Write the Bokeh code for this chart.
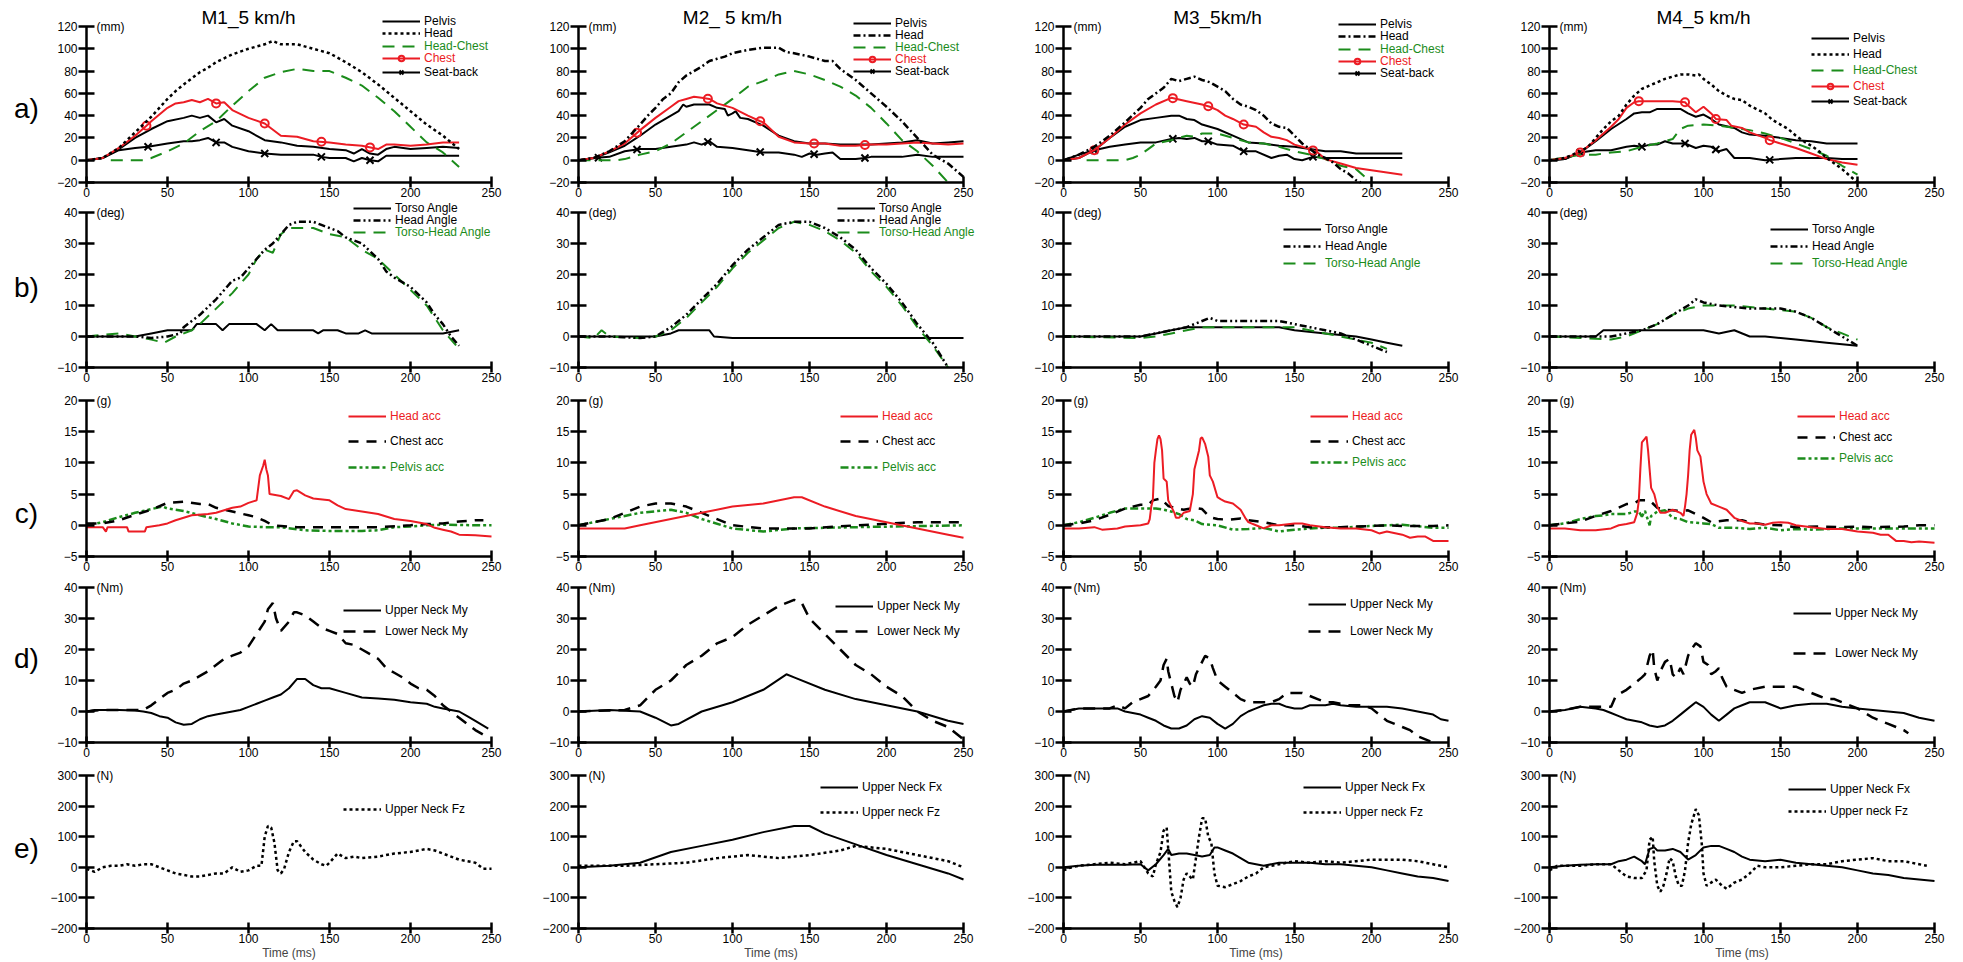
import numpy as np
from bokeh.plotting import figure
from bokeh.models import Label, Legend, LegendItem, Range1d, FixedTicker
from bokeh.layouts import column, row
from bokeh.embed import file_html
from bokeh.resources import INLINE

FONT = "Liberation Sans"
RED = "#ec1c24"
GREEN = "#1b8c1b"
BLACK = "#000000"

TITLES = ["M1_5 km/h", "M2_ 5 km/h", "M3_5km/h", "M4_5 km/h"]
ROW_LABELS = ["a)", "b)", "c)", "d)", "e)"]
UNITS = ["(mm)", "(deg)", "(g)", "(Nm)", "(N)"]
Y_LIMITS = [(-20, 120), (-10, 40), (-5, 20), (-10, 40), (-200, 300)]
Y_TICKS = [[-20, 0, 20, 40, 60, 80, 100, 120], [-10, 0, 10, 20, 30, 40],
           [-5, 0, 5, 10, 15, 20], [-10, 0, 10, 20, 30, 40], [-200, -100, 0, 100, 200, 300]]
X_TICKS = [0, 50, 100, 150, 200, 250]

# ---------------- a) displacement (mm) : (time ms, value) ----------------
M1_pelvis = [(0,0),(10,2),(20,10),(30,20),(40,28),(50,35),(60,38),(65,40),(70,38),(75,40),(80,34),(85,37),(90,31),(100,26),(110,18),(120,16),(130,13),(140,12),(150,10),(160,9),(165,6),(170,10),(175,6),(180,5),(185,10),(190,12),(200,10),(210,11),(220,12),(230,11)]
M1_head = [(0,0),(10,2),(20,11),(30,25),(40,39),(50,55),(55,62),(60,68),(70,79),(75,83),(80,88),(90,95),(100,100),(110,104),(115,107),(120,104),(130,104),(140,100),(150,96),(160,88),(170,79),(180,68),(190,56),(200,44),(210,32),(220,22),(230,10)]
M1_headchest = [(15,0),(35,0),(40,2),(50,8),(60,15),(70,26),(80,35),(90,49),(100,62),(110,74),(120,79),(130,82),(140,80),(150,80),(160,74),(170,67),(180,56),(190,44),(200,30),(210,16),(220,7),(230,-6)]
M1_chest = [(0,0),(10,2),(20,11),(30,22),(37,31),(40,35),(50,47),(55,51),(60,52),(65,54),(70,52),(75,55),(80,51),(85,52),(90,45),(100,38),(110,33),(120,22),(130,21),(140,17),(150,16),(160,14),(170,13),(180,10),(185,14),(190,14),(200,13),(210,14),(220,16),(230,16)]
M1_chest_marks = [37, 80, 110, 145, 175]
M1_seat = [(0,0),(10,2),(20,9),(30,11),(38,12),(50,15),(60,17),(65,17),(70,18),(75,20),(80,16),(85,16),(90,12),(100,8),(110,6),(120,5),(140,5),(145,3),(150,2),(160,2),(165,-1),(170,2),(175,0),(180,-1),(185,4),(190,4),(230,4)]
M1_seat_marks = [38, 80, 110, 145, 175]

M2_pelvis = [(0,0),(10,2),(20,7),(30,13),(40,22),(50,32),(60,40),(65,44),(68,50),(70,48),(75,50),(85,50),(90,47),(95,46),(97,40),(100,42),(102,44),(105,38),(110,37),(120,31),(130,22),(140,17),(150,15),(160,15),(170,14),(180,14),(190,14),(200,15),(210,16),(220,18),(230,15),(240,16),(250,17)]
M2_head = [(0,0),(10,2),(20,8),(30,17),(40,32),(45,40),(50,47),(55,55),(60,60),(65,70),(70,76),(75,80),(80,84),(85,89),(90,91),(95,93),(100,96),(110,99),(120,101),(130,101),(135,97),(140,96),(150,93),(155,91),(160,89),(165,89),(170,82),(180,72),(190,60),(200,48),(210,35),(220,20),(230,5),(240,-3),(250,-15)]
M2_headchest = [(0,0),(25,0),(30,1),(40,5),(50,8),(60,15),(70,25),(80,35),(90,45),(100,55),(110,66),(120,71),(130,77),(140,80),(150,77),(160,72),(170,66),(180,58),(190,47),(200,33),(210,18),(220,8),(230,-5),(240,-20)]
M2_chest = [(0,0),(10,2),(20,8),(30,15),(40,27),(50,38),(60,48),(65,53),(70,55),(75,57),(80,56),(85,55),(90,51),(100,47),(110,40),(118,35),(120,34),(130,21),(140,16),(150,15),(160,15),(170,13),(180,13),(190,14),(200,14),(210,15),(220,16),(230,15),(240,14),(250,15)]
M2_chest_marks = [38, 84, 118, 153, 186]
M2_seat = [(0,0),(10,2),(20,3),(30,8),(40,10),(50,10),(60,12),(70,14),(75,16),(80,14),(85,17),(90,12),(100,11),(110,9),(120,7),(130,7),(140,5),(145,3),(150,6),(155,5),(160,6),(165,7),(170,1),(180,1),(186,2),(190,3),(210,3),(220,5),(230,3),(250,3)]
M2_seat_marks = [13, 38, 84, 118, 153, 186]

M3_pelvis = [(0,0),(10,2),(20,9),(30,20),(40,30),(50,36),(60,38),(70,40),(75,40),(80,37),(85,36),(90,32),(100,28),(110,22),(120,16),(130,15),(140,13),(150,12),(160,10),(170,8),(180,8),(190,6),(200,6),(220,6)]
M3_head = [(0,0),(10,5),(20,12),(30,22),(40,34),(50,47),(55,55),(60,60),(65,65),(70,73),(75,71),(80,73),(85,75),(90,72),(95,70),(100,66),(105,62),(110,55),(115,50),(120,48),(125,45),(130,40),(135,33),(140,30),(145,29),(150,22),(155,15),(160,10),(165,5),(170,2),(175,-2),(180,-8),(185,-12),(190,-18),(193,-20)]
M3_headchest = [(15,0),(40,0),(45,2),(50,5),(55,10),(60,15),(70,18),(80,22),(85,21),(90,24),(100,24),(110,20),(120,16),(130,15),(140,12),(150,8),(160,5),(170,1),(180,-5),(190,-8),(200,-20)]
M3_chest = [(0,0),(10,2),(20,9),(30,20),(40,32),(50,42),(60,50),(70,56),(80,53),(90,50),(95,48),(100,45),(105,40),(110,37),(117,32),(125,30),(130,25),(135,21),(140,20),(145,18),(150,14),(160,10),(165,7),(170,1),(180,-3),(190,-7),(200,-9),(210,-11),(220,-13)]
M3_chest_marks = [20, 71, 94, 117, 162]
M3_seat = [(0,0),(10,5),(20,9),(30,12),(40,14),(50,16),(60,16),(70,19),(75,20),(80,19),(85,20),(90,17),(94,17),(100,14),(110,13),(117,8),(125,8),(135,2),(140,4),(145,5),(150,1),(155,0),(162,3),(170,2),(220,2)]
M3_seat_marks = [20, 71, 94, 117, 162]

M4_pelvis = [(0,0),(10,1),(20,7),(30,17),(40,28),(50,37),(55,42),(60,43),(65,43),(70,46),(80,46),(85,46),(90,42),(95,39),(100,41),(105,37),(110,32),(120,29),(125,25),(130,23),(140,22),(150,20),(160,18),(170,17),(180,15),(190,15),(200,15)]
M4_head = [(0,0),(10,2),(20,8),(25,12),(30,20),(35,28),(40,35),(45,40),(50,50),(55,58),(60,64),(65,67),(70,70),(75,73),(80,75),(85,77),(90,77),(95,76),(97,77),(100,73),(105,68),(110,62),(115,58),(120,55),(125,54),(130,49),(140,42),(145,36),(150,32),(155,28),(160,22),(165,17),(170,13),(175,8),(180,2),(185,-3),(190,-8),(195,-14),(200,-20)]
M4_headchest = [(0,0),(20,5),(30,5),(40,7),(50,8),(60,12),(70,15),(75,17),(80,19),(85,28),(90,31),(100,32),(110,31),(120,29),(130,27),(140,24),(150,20),(160,15),(170,10),(180,4),(190,-5),(200,-13)]
M4_chest = [(0,0),(10,2),(20,7),(30,18),(40,30),(45,37),(50,47),(55,52),(58,53),(70,53),(80,53),(88,52),(90,49),(95,43),(100,48),(105,42),(108,37),(115,36),(118,31),(125,29),(130,25),(140,20),(143,18),(150,15),(160,11),(170,6),(180,1),(190,-2),(200,-4)]
M4_chest_marks = [20, 58, 88, 108, 143]
M4_seat = [(0,0),(10,1),(20,7),(30,9),(40,9),(50,12),(55,13),(60,12),(65,14),(70,14),(75,17),(80,15),(88,15),(95,11),(100,13),(105,12),(110,8),(115,10),(120,2),(130,2),(140,0),(150,1),(160,2),(180,2),(190,1),(200,1)]
M4_seat_marks = [20, 60, 88, 108, 143]

# ---------------- b) angles (deg) ----------------
M1_torso = [(0,0),(30,0),(40,1),(50,2),(65,2),(68,4),(80,4),(84,2),(88,4),(105,4),(110,2),(114,4),(118,2),(140,2),(143,1),(146,2),(155,2),(160,1),(168,1),(172,2),(176,1),(220,1),(230,2)]
M1_headang = [(0,0),(30,0),(40,-0.5),(50,0),(58,1),(60,3),(65,5),(70,7),(80,12),(85,15),(90,18),(95,19),(100,22),(105,25),(110,28),(115,30),(120,33),(125,36),(130,37),(140,37),(145,36),(150,35),(155,34),(160,32),(170,30),(180,25),(185,21),(190,19),(200,16),(210,11),(215,7),(220,4),(225,0),(230,-3)]
M1_torsohead = [(0,0),(20,1),(30,0),(40,-1),(48,-2),(55,0),(65,2),(70,4),(80,9),(90,14),(100,20),(105,25),(110,28),(115,27),(120,33),(125,35),(130,35),(140,35),(150,33),(160,32),(170,28),(180,25),(190,20),(200,15),(210,10),(220,2),(225,-1),(230,-4)]
M2_torso = [(0,0),(30,0),(50,0),(60,1),(65,2),(85,2),(88,0),(100,-0.5),(250,-0.5)]
M2_headang = [(0,0),(20,0),(40,-0.5),(50,0),(60,3),(70,7),(80,12),(90,17),(100,23),(110,28),(120,32),(130,36),(140,37),(150,37),(160,35),(170,32),(180,28),(190,22),(200,17),(210,11),(220,4),(230,-2),(240,-10)]
M2_torsohead = [(0,0),(10,-0.5),(15,2),(20,0),(40,-0.5),(50,0),(60,2),(70,6),(80,11),(90,16),(100,22),(110,27),(120,31),(130,35),(140,37),(150,36),(160,34),(170,31),(180,27),(190,21),(200,16),(210,10),(220,3),(230,-3),(240,-10)]
M3_torso = [(0,0),(40,0),(50,0),(60,1),(70,2),(80,3),(100,3),(140,3),(150,2),(170,1),(190,0),(200,-1),(210,-2),(220,-3)]
M3_headang = [(0,0),(50,0),(60,1),(70,2),(80,3),(90,5),(95,6),(100,5),(120,5),(140,5),(150,4),(160,3),(170,2),(180,1),(190,-1),(200,-3),(210,-5)]
M3_torsohead = [(0,0),(50,-0.5),(60,0),(70,1),(80,2),(90,3),(100,3),(120,3),(140,3),(150,3),(170,1),(190,-1),(200,-2),(210,-4)]
M4_torso = [(0,0),(30,0),(35,2),(80,2),(100,2),(110,1),(120,2),(130,0),(140,0),(160,-1),(180,-2),(200,-3)]
M4_headang = [(0,0),(40,0),(50,1),(60,2),(70,4),(80,7),(90,10),(95,12),(100,11),(110,10),(130,9),(150,9),(160,8),(170,6),(180,3),(190,0),(200,-3)]
M4_torsohead = [(0,0),(40,-1),(50,0),(60,2),(70,4),(80,7),(90,9),(100,10),(120,10),(140,9),(160,8),(170,6),(180,3),(190,1),(200,-1)]

# ---------------- c) accelerations (g) ----------------
M1_headacc = [(0,-0.3),(10,-0.3),(12,-1),(13,-0.3),(25,-0.3),(26,-1),(36,-1),(37,-0.3),(45,0),(50,0.3),(55,0.8),(60,1.2),(65,1.6),(75,1.8),(80,2),(85,2.4),(90,2.8),(95,3),(100,3.6),(105,4),(107,8),(109,9.5),(110,10.5),(111,9),(112,8),(113,5),(120,4.7),(125,4.2),(128,5.5),(130,5.6),(135,4.8),(140,4.3),(150,4),(155,3.2),(160,2.6),(170,2.2),(180,1.8),(190,1),(200,0.7),(210,0.2),(215,-0.4),(220,-0.7),(225,-1),(230,-1.5),(240,-1.6),(250,-1.8)]
M1_chestacc = [(0,0.3),(10,0.3),(20,0.8),(30,1.7),(40,2.5),(50,3.6),(60,3.8),(70,3.4),(75,3.4),(80,2.8),(90,2.2),(100,1.6),(105,1.3),(110,0.7),(115,0),(120,-0.1),(130,-0.3),(150,-0.3),(180,-0.3),(200,0),(210,0.2),(220,0.3),(230,0.6),(240,0.8),(245,0.8)]
M1_pelvisacc = [(0,0),(10,0.5),(20,1.3),(30,2),(40,2.6),(47,3.0),(50,2.7),(60,2.3),(70,1.6),(80,1),(90,0.3),(100,-0.2),(110,-0.3),(120,-0.3),(135,-0.8),(150,-0.9),(170,-0.9),(180,-0.8),(190,-0.3),(200,-0.2),(210,0),(220,0.1),(240,0),(250,0)]
M2_headacc = [(0,-0.5),(30,-0.5),(40,0),(60,1),(80,2),(100,3),(120,3.5),(140,4.5),(145,4.5),(160,3),(180,1.5),(200,0.5),(220,-0.5),(240,-1.5),(250,-2)]
M2_chestacc = [(0,0),(20,1),(40,3),(50,3.5),(60,3.5),(70,3),(80,2),(90,1),(100,0),(120,-0.5),(150,-0.5),(180,0),(220,0.5),(250,0.5)]
M2_pelvisacc = [(0,0),(20,1),(40,2),(60,2.5),(70,2),(80,1),(100,-0.5),(120,-1),(140,-0.5),(180,-0.3),(250,0)]
M3_headacc = [(0,-0.5),(10,-0.5),(20,-0.3),(25,-0.7),(35,-0.5),(40,-0.2),(50,0),(55,0.3),(56,1),(57,3),(58,4),(59,10),(60,12),(61,13.8),(62,14.4),(63,13.8),(64,12),(65,7.5),(67,7),(68,4),(70,3),(72,2),(73,1.2),(75,1.2),(78,2),(82,2.3),(84,5),(85,9),(86,10),(88,12),(89,13.9),(90,14.1),(92,13),(94,11),(95,8),(97,7),(100,4.5),(102,4.2),(105,3.8),(110,3.5),(115,2.5),(118,1.2),(120,0.5),(125,0),(130,-0.5),(135,0),(140,0),(150,0.3),(155,0.3),(160,0),(170,-0.3),(180,-0.5),(190,-0.5),(200,-0.8),(205,-1.3),(210,-1),(220,-1.5),(225,-2),(230,-1.8),(235,-1.8),(240,-2.5),(250,-2.5)]
M3_chestacc = [(0,0),(10,0.3),(20,0.8),(30,1.7),(40,2.7),(50,3.3),(55,3.3),(58,4),(63,4.3),(68,3.1),(72,2.8),(78,2.5),(85,2.8),(90,2.6),(95,1.3),(100,1),(107,0.9),(115,1.1),(120,0.8),(130,0.5),(140,0),(150,0),(160,-0.3),(180,-0.3),(200,-0.1),(210,0),(220,-0.1),(240,-0.1),(250,0)]
M3_pelvisacc = [(0,0),(10,0.5),(20,1.2),(30,2),(40,2.7),(50,2.7),(60,2.7),(65,2.5),(70,2.2),(75,1.8),(80,1),(85,0.8),(90,0.2),(100,0),(110,-0.7),(120,-0.6),(130,-0.4),(140,-1),(150,-0.7),(160,-0.5),(170,-0.4),(180,-0.4),(200,-0.1),(220,0.1),(240,-0.4),(250,-0.4)]
M4_headacc = [(0,-0.5),(10,-0.5),(20,-0.8),(30,-0.8),(40,-0.5),(45,0),(50,0.2),(55,0.5),(57,2),(58,4),(59,9),(60,13.3),(62,13.9),(63,14.2),(64,12),(65,9),(66,6),(68,5),(70,3),(72,2),(75,2),(80,2.5),(85,2),(87,1.5),(88,3),(89,5),(90,8),(91,12),(92,14.5),(94,15.3),(95,14),(96,12),(98,11),(100,7),(102,5),(105,3.5),(110,3),(115,2.5),(120,1.2),(125,0.7),(130,0.3),(135,0.3),(140,0.1),(145,0.4),(150,0.5),(155,0.4),(160,0),(170,-0.3),(180,-0.6),(190,-0.6),(200,-1),(210,-1.2),(215,-1.5),(220,-1.5),(225,-2.5),(230,-2.5),(235,-2.7),(240,-2.6),(250,-2.8)]
M4_chestacc = [(0,0),(10,0.3),(20,0.6),(30,1.5),(40,2.3),(50,3.4),(55,3.5),(58,4),(65,4),(70,2.8),(75,2.5),(80,2.4),(85,2.3),(90,2.4),(100,1.2),(105,0.5),(115,0.8),(125,0.8),(130,0.5),(140,0.1),(150,0),(160,-0.3),(175,-0.2),(190,-0.3),(200,-0.2),(210,-0.3),(230,-0.2),(240,0),(250,0)]
M4_pelvisacc = [(0,0),(10,0.3),(20,1),(30,1.5),(35,1.6),(40,1.8),(50,1.8),(55,2.2),(58,2.2),(60,1.4),(62,2.3),(65,0),(66,1.5),(70,2.2),(75,2.4),(80,1.2),(85,1),(90,0.5),(100,0.3),(105,0.2),(110,-0.4),(120,-0.4),(130,-0.6),(140,-0.4),(150,-0.8),(160,-0.6),(170,-0.7),(180,-0.6),(190,-0.5),(200,-0.5),(220,-0.5),(250,-0.5)]

# ---------------- d) neck moments (Nm) ----------------
M1_upmy = [(0,0),(5,0.5),(10,0.5),(20,0.5),(30,0.3),(35,0),(40,-0.5),(45,-1.5),(50,-2),(55,-3.5),(60,-4.3),(65,-4),(70,-2.5),(75,-1.5),(80,-1),(90,0),(95,0.5),(100,1.5),(105,2.5),(110,3.5),(115,4.5),(120,5.5),(125,7.5),(130,10.5),(135,10.5),(140,8.5),(145,7.5),(150,7.5),(160,6),(170,4.5),(180,4.2),(190,3.8),(200,3),(210,2.5),(215,1.5),(220,1),(225,0.5),(230,0),(235,-1.5),(240,-3),(248,-5.5)]
M1_lowmy = [(0,0),(10,0.5),(20,0.5),(30,0.5),(35,0.5),(40,2),(45,4),(50,6),(55,7),(60,9),(65,10),(70,11.5),(75,13),(80,15),(85,17),(90,18),(95,19),(100,21),(105,25),(110,29),(112,33),(115,35),(117,30),(120,26),(125,29),(128,32),(130,32),(135,31),(140,29),(145,27),(150,26),(155,25),(160,22),(165,21.5),(170,20),(175,18.5),(180,17),(185,14),(190,12.5),(195,11),(200,9),(205,7.5),(210,7),(215,5),(220,2),(225,0),(230,-2),(235,-4),(240,-6),(245,-7.5),(248,-9)]
M2_upmy = [(0,0),(20,0.5),(40,0),(50,-2),(60,-4.5),(65,-4),(80,0),(100,3),(120,7),(135,12),(140,11),(160,7),(180,4),(200,2),(220,0),(240,-3),(250,-4)]
M2_lowmy = [(0,0),(30,0.5),(40,2),(50,7),(60,10),(70,15),(80,18),(90,22),(100,24),(110,28),(120,31),(130,34),(140,36),(145,35),(150,30),(160,25),(170,20),(180,15),(190,12),(200,8),(210,5),(220,0),(230,-3),(240,-5),(250,-9)]
M3_upmy = [(0,0),(5,0.5),(10,1),(20,1),(30,1),(35,1),(40,0),(45,-0.5),(50,-1),(55,-2),(60,-3),(65,-4.5),(70,-5.5),(75,-5.5),(80,-4.5),(85,-2.5),(90,-1.5),(95,-2),(100,-4),(105,-5.5),(110,-4),(115,-1.5),(120,0),(125,1),(130,2),(135,2.5),(140,2.5),(145,1.5),(150,1),(155,1),(160,2),(170,2),(175,2.5),(180,2),(190,1.5),(200,1.5),(210,1.5),(220,1),(230,0),(240,-1),(245,-2.5),(250,-3)]
M3_lowmy = [(0,0),(10,1),(20,1),(30,1),(35,2),(40,1),(45,3),(50,4),(55,5),(60,8),(63,10),(65,15),(67,17),(68,13),(70,9),(72,5),(74,3),(76,7),(78,9),(80,11),(82,9),(84,8),(86,12),(88,14),(90,16),(92,18),(95,17),(97,14),(100,10),(105,8),(110,6),(115,4),(120,3),(125,3),(130,3),(135,3),(140,4),(145,6),(150,6),(155,6),(160,5),(165,4),(170,3),(175,3),(180,2.5),(185,2),(190,2),(195,2),(200,1),(205,-1),(210,-3),(215,-4),(220,-5),(225,-6),(230,-8),(235,-9),(240,-10)]
M4_upmy = [(0,0),(10,0.5),(20,1.5),(30,1),(35,0.5),(40,-0.5),(45,-1.5),(50,-2.5),(55,-3),(60,-3.5),(65,-4.5),(70,-5),(75,-4.5),(80,-3),(85,-1),(90,1),(95,3),(100,1.5),(105,-1),(110,-3),(115,-1),(120,1),(125,2),(130,3),(140,3),(150,1),(160,2),(170,2.5),(180,2.5),(190,1.5),(200,1),(210,0.5),(220,0),(230,-0.5),(240,-2),(250,-3)]
M4_lowmy = [(0,0),(10,0.5),(20,1.5),(30,1.5),(40,1.5),(43,5),(50,7),(55,9),(60,11),(62,12),(65,18),(67,20),(68,14),(70,10),(72,13),(75,16),(78,17),(80,12),(82,11),(85,14),(87,12),(90,18),(92,20),(95,22),(98,21),(100,16),(103,15),(105,12),(108,13),(110,14),(112,11),(115,8),(120,7),(125,6),(130,7),(140,8),(150,8),(160,8),(165,7),(170,6),(175,5),(180,4),(185,4),(190,3),(200,1),(210,-2),(215,-3),(220,-4),(225,-5),(230,-6),(233,-7)]

# ---------------- e) neck forces (N) ----------------
M1_fz = [(0,-5),(5,-15),(10,0),(15,5),(20,5),(25,10),(30,5),(35,10),(40,10),(45,0),(50,-10),(55,-20),(60,-25),(65,-30),(70,-30),(75,-25),(80,-20),(85,-20),(90,0),(95,-15),(100,-10),(105,5),(108,5),(110,100),(112,135),(114,130),(116,80),(118,-10),(120,-20),(122,-5),(125,50),(128,85),(130,85),(135,50),(140,25),(145,10),(148,5),(150,15),(155,45),(160,30),(165,35),(170,30),(180,35),(190,45),(200,50),(210,60),(215,55),(220,45),(230,25),(240,15),(245,-5),(250,-5)]
M2_fx = [(0,0),(20,5),(40,15),(60,50),(80,70),(100,90),(120,115),(140,135),(150,135),(160,110),(180,75),(200,40),(220,10),(240,-20),(250,-40)]
M2_fz = [(0,5),(30,5),(50,10),(70,15),(90,30),(110,40),(130,30),(150,40),(170,55),(180,70),(200,60),(220,40),(240,20),(250,0)]
M3_fx = [(0,0),(10,5),(20,8),(30,8),(40,8),(50,10),(55,-10),(60,10),(65,40),(68,60),(70,40),(75,45),(80,45),(85,40),(90,35),(95,40),(98,65),(100,65),(105,55),(110,45),(115,30),(120,15),(125,10),(130,5),(140,15),(150,15),(160,15),(170,10),(180,10),(190,5),(200,0),(210,-10),(220,-20),(230,-30),(240,-35),(250,-45)]
M3_fz = [(0,-10),(5,0),(10,5),(20,10),(30,15),(40,10),(50,20),(55,-20),(58,-30),(60,10),(63,50),(65,120),(67,130),(68,60),(70,-80),(72,-110),(74,-130),(76,-100),(78,-40),(80,-20),(84,-40),(86,30),(88,100),(90,160),(92,160),(94,100),(96,80),(98,-20),(100,-60),(105,-65),(110,-55),(115,-45),(120,-30),(125,-20),(130,0),(140,10),(150,20),(160,15),(170,20),(180,15),(190,20),(200,25),(210,25),(220,25),(230,20),(240,10),(250,0)]
M4_fx = [(0,0),(10,5),(20,8),(30,10),(40,10),(45,20),(50,25),(55,35),(60,20),(62,10),(65,60),(68,65),(70,55),(75,55),(80,60),(85,50),(90,25),(95,40),(100,65),(105,70),(110,70),(115,60),(120,50),(125,35),(130,25),(140,20),(150,25),(160,15),(170,10),(180,5),(190,0),(200,-10),(210,-20),(220,-25),(230,-35),(240,-40),(250,-45)]
M4_fz = [(0,-10),(5,5),(10,5),(20,5),(30,10),(40,10),(45,-10),(50,-30),(55,-35),(60,-35),(63,-10),(65,90),(67,100),(68,20),(70,-60),(72,-80),(74,-60),(76,-20),(78,30),(80,20),(82,-30),(84,-60),(86,-60),(88,-10),(90,80),(92,140),(95,190),(97,170),(99,70),(100,-20),(102,-60),(105,-50),(108,-40),(112,-60),(115,-70),(120,-50),(125,-40),(130,-20),(135,5),(140,0),(150,0),(160,5),(170,10),(180,10),(190,20),(200,25),(210,30),(220,20),(230,20),(240,10),(245,5)]

# ---------------- layout (pixels) ----------------
FRAME_W = [405, 385, 385, 385]
BL = [86, 67, 70, 71]
BR = [20, 30, 30, 29]
FRAME_H = [156, 155, 156, 155, 153]
BT = [26, 12, 13, 11, 13]
BB = [18, 20, 20, 20, 34]
FL = [86, 578, 1063, 1549]          # page x of each column's axis origin
FB = [182, 367, 556, 742, 928]      # page y of each row's x-axis line
FT = [26, 212, 400, 587, 775]       # page y of each row's top tick
ROW_LABEL_Y = [108, 287, 513, 658, 848]

HEAD_DASH = ["3 3", "7 3 2 3", "7 3 2 3", "3 3"]

# legend positions (page px): sample start x, list of row-centre y
LEG_POS = {
    (0, 0): (382, [21, 33, 46, 58, 72]),
    (0, 1): (853, [23, 35, 47, 59, 71]),
    (0, 2): (1338, [24, 36, 49, 61, 73]),
    (0, 3): (1811, [38, 54, 70, 86, 101]),
    (1, 0): (353, [208, 220, 232]),
    (1, 1): (837, [208, 220, 232]),
    (1, 2): (1283, [229, 246, 263]),
    (1, 3): (1770, [229, 246, 263]),
    (2, 0): (348, [416, 441, 467]),
    (2, 1): (840, [416, 441, 467]),
    (2, 2): (1310, [416, 441, 462]),
    (2, 3): (1797, [416, 437, 458]),
    (3, 0): (343, [610, 631]),
    (3, 1): (835, [606, 631]),
    (3, 2): (1308, [604, 631]),
    (3, 3): (1793, [613, 653]),
    (4, 0): (343, [809]),
    (4, 1): (820, [787, 812]),
    (4, 2): (1303, [787, 812]),
    (4, 3): (1788, [789, 811]),
}


def tv(pts):
    return [a for a, b in pts], [b for a, b in pts]


def make_fig(ri, ci):
    ymin, ymax = Y_LIMITS[ri]
    span = ymax - ymin
    W = BL[ci] + FRAME_W[ci] + BR[ci]
    H = BT[ri] + FRAME_H[ri] + BB[ri]
    x0 = -BL[ci] / FRAME_W[ci] * 250
    x1 = 250 + BR[ci] / FRAME_W[ci] * 250
    y0 = ymin - BB[ri] / FRAME_H[ri] * span
    y1 = ymax + BT[ri] / FRAME_H[ri] * span
    p = figure(width=W, height=H, x_range=Range1d(x0, x1), y_range=Range1d(y0, y1),
               output_backend="svg", toolbar_location=None,
               min_border_left=0, min_border_right=0, min_border_top=0, min_border_bottom=0,
               outline_line_color=None, background_fill_color="white", border_fill_color="white")
    p.grid.visible = False
    p.xaxis.ticker = FixedTicker(ticks=X_TICKS)
    p.yaxis.ticker = FixedTicker(ticks=Y_TICKS[ri])
    p.xaxis.fixed_location = ymin
    p.yaxis.fixed_location = 0
    p.xaxis.bounds = (0, 250)
    p.yaxis.bounds = (ymin, ymax)
    for ax in p.axis:
        ax.axis_line_width = 2.5
        ax.major_tick_line_width = 2.5
        ax.minor_tick_line_color = None
        ax.major_label_text_font = FONT
        ax.major_label_text_font_size = "12px"
        ax.major_label_text_color = BLACK
    p.yaxis.major_tick_in = 8
    p.yaxis.major_tick_out = 8
    p.yaxis.major_label_standoff = 1
    p.xaxis.major_tick_in = 6
    p.xaxis.major_tick_out = 5
    p.xaxis.major_label_standoff = 0
    if ri == 4:
        p.xaxis.axis_label = "Time (ms)"
        p.xaxis.axis_label_text_font = FONT
        p.xaxis.axis_label_text_font_size = "12px"
        p.xaxis.axis_label_text_font_style = "normal"
        p.xaxis.axis_label_standoff = 0
    # unit label
    p.add_layout(Label(x=0, y=ymax, x_offset=10, text=UNITS[ri], text_baseline="middle",
                       text_font=FONT, text_font_size="12px", text_color=BLACK))
    if ri == 0:
        p.add_layout(Label(x=100, y=ymax, y_offset=9, text=TITLES[ci], text_align="center",
                           text_baseline="middle", text_font=FONT, text_font_size="19px",
                           text_color=BLACK))
    if ci == 0:
        ymid = ymax - (ROW_LABEL_Y[ri] - FT[ri]) / FRAME_H[ri] * span
        p.add_layout(Label(x=0, y=ymid, x_offset=-60, text=ROW_LABELS[ri], text_align="center",
                           text_baseline="middle", text_font=FONT, text_font_size="28px",
                           text_color=BLACK))
    return p


def series(p, pts, color, width, dash="solid", marker=None, marks=None):
    t, v = tv(pts)
    r = p.line(t, v, line_color=color, line_width=width, line_dash=dash)
    rs = [r]
    if marker is not None:
        mv = list(np.interp(marks, t, v))
        if marker == "circle":
            m = p.scatter(marks, mv, marker="circle", size=8, line_color=color, line_width=2,
                          fill_color=None)
        else:
            m = p.scatter(marks, mv, marker="x", size=10, line_color=color, line_width=2)
        rs.append(m)
    return rs


def add_legends(p, ri, ci, entries):
    x0, ys = LEG_POS[(ri, ci)]
    left_page = FL[ci] - BL[ci]
    bottom_page = FB[ri] + BB[ri]
    for (rs, label, color), y in zip(entries, ys):
        leg = Legend(items=[LegendItem(label=label, renderers=rs)],
                     location=(x0 - left_page, bottom_page - y - 7),
                     padding=0, margin=0, spacing=0, glyph_width=38, glyph_height=14,
                     label_height=14, label_standoff=4, label_text_font=FONT,
                     label_text_font_size="12px", label_text_color=color,
                     border_line_color=None, background_fill_alpha=0)
        p.add_layout(leg)


DISP = [(M1_pelvis, M1_head, M1_headchest, M1_chest, M1_chest_marks, M1_seat, M1_seat_marks),
        (M2_pelvis, M2_head, M2_headchest, M2_chest, M2_chest_marks, M2_seat, M2_seat_marks),
        (M3_pelvis, M3_head, M3_headchest, M3_chest, M3_chest_marks, M3_seat, M3_seat_marks),
        (M4_pelvis, M4_head, M4_headchest, M4_chest, M4_chest_marks, M4_seat, M4_seat_marks)]
ANG = [(M1_torso, M1_headang, M1_torsohead), (M2_torso, M2_headang, M2_torsohead),
       (M3_torso, M3_headang, M3_torsohead), (M4_torso, M4_headang, M4_torsohead)]
ACC = [(M1_headacc, M1_chestacc, M1_pelvisacc), (M2_headacc, M2_chestacc, M2_pelvisacc),
       (M3_headacc, M3_chestacc, M3_pelvisacc), (M4_headacc, M4_chestacc, M4_pelvisacc)]
MOM = [(M1_upmy, M1_lowmy), (M2_upmy, M2_lowmy), (M3_upmy, M3_lowmy), (M4_upmy, M4_lowmy)]
FORCE = [(None, M1_fz), (M2_fx, M2_fz), (M3_fx, M3_fz), (M4_fx, M4_fz)]

rows = []
for ri in range(5):
    figs = []
    for ci in range(4):
        p = make_fig(ri, ci)
        if ri == 0:
            pel, hd, hc, ch, chm, sb, sbm = DISP[ci]
            r_pel = series(p, pel, BLACK, 2)
            r_sb = series(p, sb, BLACK, 2, marker="x", marks=sbm)
            r_hc = series(p, hc, GREEN, 2, "12 8")
            r_ch = series(p, ch, RED, 2, marker="circle", marks=chm)
            r_hd = series(p, hd, BLACK, 2.5, HEAD_DASH[ci])
            add_legends(p, ri, ci, [(r_pel, "Pelvis", BLACK), (r_hd, "Head", BLACK),
                                    (r_hc, "Head-Chest", GREEN), (r_ch, "Chest", RED),
                                    (r_sb, "Seat-back", BLACK)])
        elif ri == 1:
            to, ha, th = ANG[ci]
            r_to = series(p, to, BLACK, 2)
            r_th = series(p, th, GREEN, 2, "12 8")
            r_ha = series(p, ha, BLACK, 2.5, "7 3 2 3 2 3")
            add_legends(p, ri, ci, [(r_to, "Torso Angle", BLACK), (r_ha, "Head Angle", BLACK),
                                    (r_th, "Torso-Head Angle", GREEN)])
        elif ri == 2:
            ha, ca, pa = ACC[ci]
            r_pa = series(p, pa, GREEN, 2.5, "8 3 3 3 3 3")
            r_ca = series(p, ca, BLACK, 2.5, "10 8")
            r_ha = series(p, ha, RED, 2)
            add_legends(p, ri, ci, [(r_ha, "Head acc", RED), (r_ca, "Chest acc", BLACK),
                                    (r_pa, "Pelvis acc", GREEN)])
        elif ri == 3:
            up, lo = MOM[ci]
            r_up = series(p, up, BLACK, 2)
            r_lo = series(p, lo, BLACK, 2.5, "12 8")
            add_legends(p, ri, ci, [(r_up, "Upper Neck My", BLACK), (r_lo, "Lower Neck My", BLACK)])
        else:
            fx, fz = FORCE[ci]
            if fx is None:
                r_fz = series(p, fz, BLACK, 2.5, "3 3")
                add_legends(p, ri, ci, [(r_fz, "Upper Neck Fz", BLACK)])
            else:
                r_fx = series(p, fx, BLACK, 2)
                r_fz = series(p, fz, BLACK, 2.5, "3 3")
                add_legends(p, ri, ci, [(r_fx, "Upper Neck Fx", BLACK),
                                        (r_fz, "Upper neck Fz", BLACK)])
        figs.append(p)
    rows.append(row(*figs, spacing=0))

layout = column(*rows, spacing=0)
open("out.html", "w").write(file_html(layout, INLINE))
